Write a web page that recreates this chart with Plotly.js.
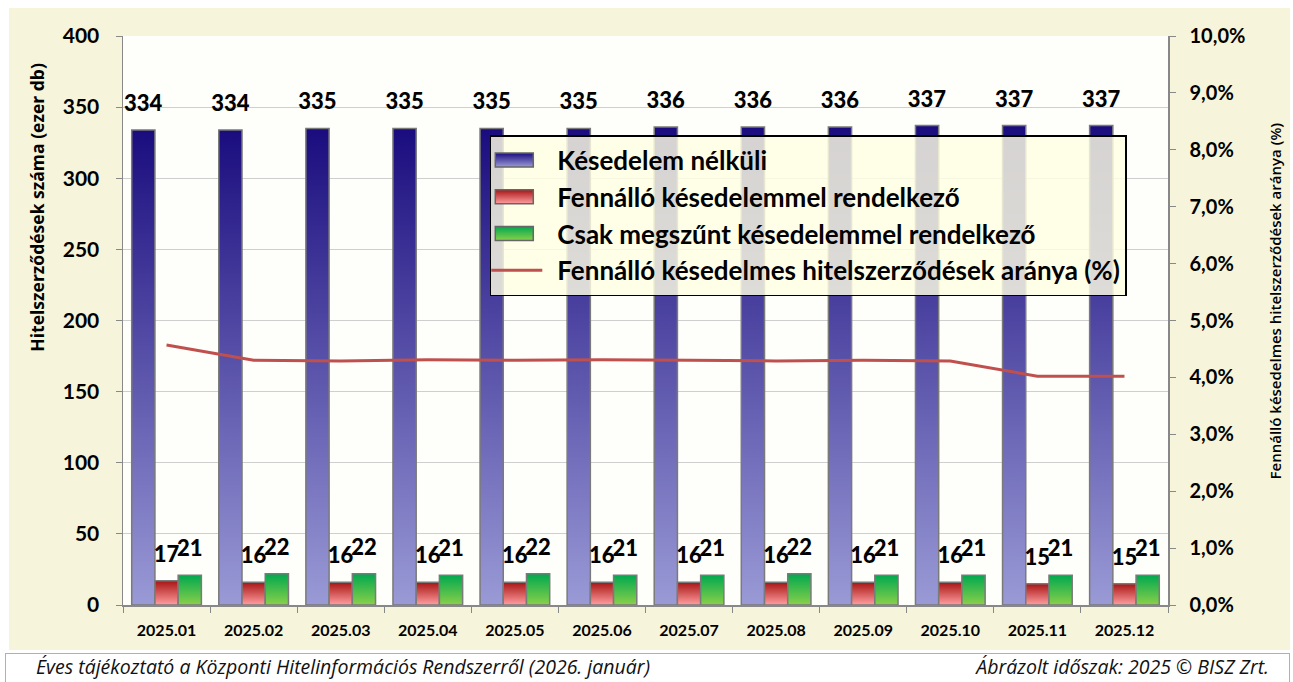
<!DOCTYPE html>
<html><head><meta charset="utf-8">
<script src="https://cdn.plot.ly/plotly-3.0.1.min.js"></script>
<style>
html,body{margin:0;padding:0;background:#ffffff;width:1293px;height:682px;overflow:hidden;}
#chart{position:absolute;left:9px;top:8px;width:1281px;height:642px;}
#footer{position:absolute;left:5px;top:653px;width:1283px;height:28px;border:1px solid #b0b0b0;background:#fff;
font-family:"Open Sans","Noto Sans",sans-serif;font-style:italic;font-size:19.5px;color:#111;}
#footer .l{position:absolute;left:30px;top:-1px;}
#footer .r{position:absolute;right:20px;top:-1px;}
</style></head>
<body>
<div id="chart"></div>
<div id="footer"><span class="l">Éves tájékoztató a Központi Hitelinformációs Rendszerről (2026. január)</span><span class="r">Ábrázolt időszak: 2025 © BISZ Zrt.</span></div>
<script>
const categories = ["2025.01","2025.02","2025.03","2025.04","2025.05","2025.06","2025.07","2025.08","2025.09","2025.10","2025.11","2025.12"];
const kesedelemNelkuli = [334,334,335,335,335,335,336,336,336,337,337,337];
const fennalloKesedelem = [17,16,16,16,16,16,16,16,16,16,15,15];
const megszuntKesedelem = [21,22,22,21,22,21,21,22,21,21,21,21];
const arany = [4.57,4.30,4.29,4.31,4.30,4.31,4.30,4.29,4.30,4.29,4.02,4.02];
const leftTicks = [0,50,100,150,200,250,300,350,400];
const rightTicks = [0,1,2,3,4,5,6,7,8,9,10];
const rightTickText = rightTicks.map(function(v){ return v.toFixed(1).replace(".", ",") + "%"; });
const leftTitle = "Hitelszerződések száma (ezer db)";
const rightTitle = "Fennálló késedelmes hitelszerződések aránya (%)";

const FONT = "Lato, 'Open Sans', sans-serif";
const barLine = {color:"#7a7a7a", width:1.5};
const labelFont = {family:FONT, size:22, color:"#000", weight:"bold"};

function barTrace(name, vals, color, grp){
  return {type:"bar", name:name, x:categories, y:vals, legendgroup:grp,
   marker:{color:color, line:barLine}, text:vals.map(String),
   textposition:"outside", textfont:labelFont, constraintext:"none", cliponaxis:false, hoverinfo:"none"};
}

const traces = [
  barTrace("Késedelem nélküli", kesedelemNelkuli, "#4a4aa8", "a"),
  barTrace("Fennálló késedelemmel rendelkező", fennalloKesedelem, "#e05555", "b"),
  barTrace("Csak megszűnt késedelemmel rendelkező", megszuntKesedelem, "#22b04a", "c"),
  {type:"scatter", mode:"lines", name:"Fennálló késedelmes hitelszerződések aránya (%)", x:categories, y:arany,
   yaxis:"y2", legendgroup:"d", line:{color:"#c0504d", width:3}, hoverinfo:"none"}
];

const layout = {
  width:1281, height:642,
  margin:{l:114, r:122, t:28, b:45},
  paper_bgcolor:"#f6f4da", plot_bgcolor:"#fefefa",
  separators:", ",
  barmode:"group", bargap:0.2, bargroupgap:0,
  showlegend:true,
  legend:{x:0.351, y:0.826, xanchor:"left", yanchor:"top", bgcolor:"rgba(255,255,228,0.82)",
    bordercolor:"#000", borderwidth:1.5, font:{family:FONT, size:26, color:"#000", weight:"bold"},
    tracegroupgap:0, itemwidth:56, traceorder:"normal"},
  xaxis:{type:"category", tickson:"boundaries", ticks:"outside", ticklen:6, tickcolor:"#888",
    showline:true, linecolor:"#888", linewidth:1.5, showgrid:false, ticklabelstandoff:10,
    tickfont:{family:FONT, size:16, color:"#000", weight:"bold"}},
  yaxis:{range:[0,400], tickvals:leftTicks, ticks:"outside", ticklen:6, tickcolor:"#888",
    showline:true, linecolor:"#888", linewidth:1.5, gridcolor:"#cfcfcf", gridwidth:1, zeroline:false,
    ticklabelstandoff:12,
    tickfont:{family:FONT, size:21, color:"#000", weight:"bold"}},
  yaxis2:{range:[0,10], overlaying:"y", side:"right", tickvals:rightTicks, ticktext:rightTickText,
    ticks:"outside", ticklen:6, tickcolor:"#888", showline:true, linecolor:"#888", linewidth:1.5,
    showgrid:false, zeroline:false, ticklabelstandoff:10,
    tickfont:{family:FONT, size:20, color:"#000", weight:"bold"}},
  annotations:[
    {text:leftTitle, xref:"paper", yref:"paper", x:-0.0823, y:0.70, textangle:-90, showarrow:false,
     xanchor:"center", yanchor:"middle", font:{family:"'Open Sans', sans-serif", size:17.5, color:"#000", weight:"bold"}},
    {text:rightTitle, xref:"paper", yref:"paper", x:1.1024, y:0.5334, textangle:-90, showarrow:false,
     xanchor:"center", yanchor:"middle", font:{family:"'Open Sans', sans-serif", size:15, color:"#000", weight:600}}
  ]
};

Plotly.newPlot("chart", traces, layout, {staticPlot:true, displayModeBar:false}).then(function(gd){
  const svg = gd.querySelector("svg.main-svg");
  const ns = "http://www.w3.org/2000/svg";
  let defs = svg.querySelector("defs");
  const grads = [
    {id:"gBlue", stops:[["0%","#1a0c7e"],["100%","#9a9ad6"]]},
    {id:"gRed", stops:[["0%","#a81414"],["100%","#ff9ea0"]]},
    {id:"gGreen", stops:[["0%","#00a84e"],["100%","#8ad04a"]]}
  ];
  grads.forEach(function(g){
    const lg = document.createElementNS(ns,"linearGradient");
    lg.setAttribute("id", g.id); lg.setAttribute("x1","0"); lg.setAttribute("y1","0");
    lg.setAttribute("x2","0"); lg.setAttribute("y2","1");
    g.stops.forEach(function(s){
      const st = document.createElementNS(ns,"stop");
      st.setAttribute("offset", s[0]); st.setAttribute("stop-color", s[1]);
      lg.appendChild(st);
    });
    defs.appendChild(lg);
  });
  gd.querySelectorAll(".barlayer .trace").forEach(function(t,i){
    t.querySelectorAll("path").forEach(function(p){ p.style.fill = "url(#"+grads[i].id+")"; });
    t.querySelectorAll("text.bartext").forEach(function(tx){
      const tr = tx.getAttribute("transform") || "";
      tx.setAttribute("transform", "translate(0,-11) " + tr);
      tx.style.fontWeight = "900";
    });
  });
  gd.querySelectorAll(".legend .traces").forEach(function(t,i){
    const layers = t.querySelector("g.layers");
    if(layers){
      const tr = layers.getAttribute("transform") || "";
      layers.setAttribute("transform", "translate(-10,0) " + tr);
    }
    if(i<3){
      t.querySelectorAll(".legendpoints path").forEach(function(p){
        p.setAttribute("d","M19,7H-19V-7H19Z");
        p.style.fill = "url(#"+grads[i].id+")";
        p.style.stroke = "#666"; p.style.strokeWidth = "1.5px";
      });
    }
  });
});
</script>
</body></html>
